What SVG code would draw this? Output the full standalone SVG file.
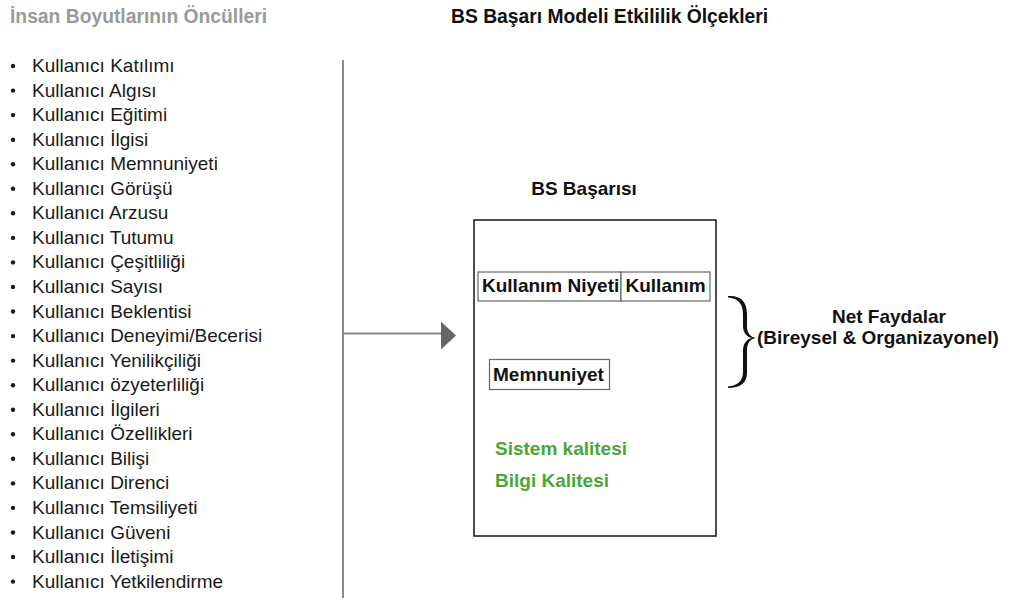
<svg xmlns="http://www.w3.org/2000/svg" width="1014" height="598" viewBox="0 0 1014 598">
  <style>
    text { font-family: "Liberation Sans", Arial, sans-serif; }
    .head { font-size: 19.3px; font-weight: bold; }
    .item { font-size: 19px; fill: #1a1a1a; }
    .lbl { font-size: 19px; font-weight: bold; fill: #111; }
    .green { font-size: 19px; font-weight: bold; fill: #4aa636; }
    .cell { fill: #fff; stroke: #666; stroke-width: 1.2; }
    .conn { stroke: #8c8c8c; stroke-width: 2; fill: none; }
  </style>
  <defs>
    <circle id="dot" r="2.2" fill="#1a1a1a"/>
  </defs>
  <rect width="1014" height="598" fill="#fff"/>

  <!-- headings -->
  <text class="head" x="10" y="23" fill="#9a9a9a">İnsan Boyutlarının Öncülleri</text>
  <text class="head" x="451" y="23" fill="#111">BS Başarı Modeli Etkililik Ölçekleri</text>

  <!-- antecedents list -->
  <g id="antecedents">
    <g fill="#1a1a1a">
      <use href="#dot" x="13" y="66"/><use href="#dot" x="13" y="90.6"/><use href="#dot" x="13" y="115.1"/>
      <use href="#dot" x="13" y="139.7"/><use href="#dot" x="13" y="164.2"/><use href="#dot" x="13" y="188.8"/>
      <use href="#dot" x="13" y="213.3"/><use href="#dot" x="13" y="237.9"/><use href="#dot" x="13" y="262.4"/>
      <use href="#dot" x="13" y="287"/><use href="#dot" x="13" y="311.5"/><use href="#dot" x="13" y="336.1"/>
      <use href="#dot" x="13" y="360.6"/><use href="#dot" x="13" y="385.2"/><use href="#dot" x="13" y="409.7"/>
      <use href="#dot" x="13" y="434.3"/><use href="#dot" x="13" y="458.8"/><use href="#dot" x="13" y="483.4"/>
      <use href="#dot" x="13" y="507.9"/><use href="#dot" x="13" y="532.5"/><use href="#dot" x="13" y="557"/>
      <use href="#dot" x="13" y="581.6"/>
    </g>
    <text class="item" x="32" y="72">Kullanıcı Katılımı</text>
    <text class="item" x="32" y="96.6">Kullanıcı Algısı</text>
    <text class="item" x="32" y="121.1">Kullanıcı Eğitimi</text>
    <text class="item" x="32" y="145.7">Kullanıcı İlgisi</text>
    <text class="item" x="32" y="170.2">Kullanıcı Memnuniyeti</text>
    <text class="item" x="32" y="194.8">Kullanıcı Görüşü</text>
    <text class="item" x="32" y="219.3">Kullanıcı Arzusu</text>
    <text class="item" x="32" y="243.9">Kullanıcı Tutumu</text>
    <text class="item" x="32" y="268.4">Kullanıcı Çeşitliliği</text>
    <text class="item" x="32" y="293">Kullanıcı Sayısı</text>
    <text class="item" x="32" y="317.5">Kullanıcı Beklentisi</text>
    <text class="item" x="32" y="342.1">Kullanıcı Deneyimi/Becerisi</text>
    <text class="item" x="32" y="366.6">Kullanıcı Yenilikçiliği</text>
    <text class="item" x="32" y="391.2">Kullanıcı özyeterliliği</text>
    <text class="item" x="32" y="415.7">Kullanıcı İlgileri</text>
    <text class="item" x="32" y="440.3">Kullanıcı Özellikleri</text>
    <text class="item" x="32" y="464.8">Kullanıcı Bilişi</text>
    <text class="item" x="32" y="489.4">Kullanıcı Direnci</text>
    <text class="item" x="32" y="513.9">Kullanıcı Temsiliyeti</text>
    <text class="item" x="32" y="538.5">Kullanıcı Güveni</text>
    <text class="item" x="32" y="563">Kullanıcı İletişimi</text>
    <text class="item" x="32" y="587.6">Kullanıcı Yetkilendirme</text>
  </g>

  <!-- connectors -->
  <g id="connectors">
    <line class="conn" x1="343" y1="60" x2="343" y2="598"/>
    <line class="conn" x1="343" y1="333.5" x2="442" y2="333.5"/>
    <polygon points="441,321.5 456,335.5 441,349.5" fill="#666"/>
  </g>

  <!-- IS success model -->
  <g id="bs-basarisi">
    <text class="lbl" x="584" y="195" text-anchor="middle">BS Başarısı</text>
    <rect x="474" y="220" width="242" height="316" fill="#fff" stroke="#222" stroke-width="1.6"/>
  </g>
  <g id="kullanim-niyeti">
    <rect class="cell" x="478" y="272" width="143" height="29"/>
    <text class="lbl" x="482" y="292">Kullanım Niyeti</text>
  </g>
  <g id="kullanim">
    <rect class="cell" x="621" y="272" width="89" height="29"/>
    <text class="lbl" x="625.5" y="292">Kullanım</text>
  </g>
  <g id="memnuniyet">
    <rect class="cell" x="489.5" y="359.5" width="120" height="30"/>
    <text class="lbl" x="493" y="381">Memnuniyet</text>
  </g>
  <g id="sistem-kalitesi">
    <text class="green" x="495" y="455">Sistem kalitesi</text>
  </g>
  <g id="bilgi-kalitesi">
    <text class="green" x="495" y="487">Bilgi Kalitesi</text>
  </g>

  <!-- net benefits -->
  <g id="net-faydalar">
    <path d="M728,296 C740,295 747,301 747,314 L747,326 C747,333 750,337 756,338 C750,339 747,343 747,350 L747,373 C747,383 740,388 728,388 L728,386.5 C737,386 743,381 743,372 L743,351 C743,343 747,339 752,338 C747,337 743,333 743,326 L743,314 C743,303 737,298 728,297.5 Z"
          fill="#111"/>
    <text class="lbl" x="889" y="323" text-anchor="middle">Net Faydalar</text>
    <text class="lbl" x="757" y="344">(Bireysel &amp; Organizayonel)</text>
  </g>
</svg>
